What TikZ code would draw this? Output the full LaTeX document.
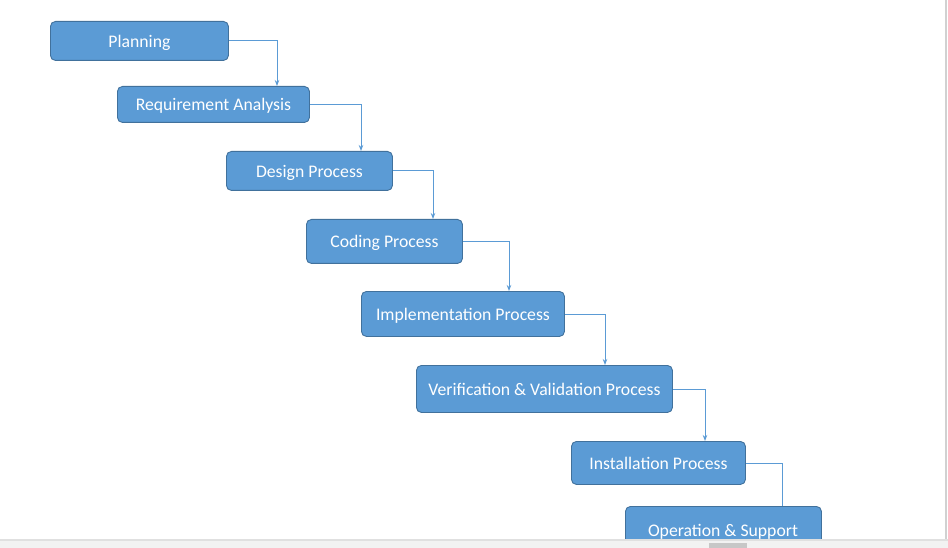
\documentclass[tikz,border=0pt]{standalone}
\usepackage{fontspec}
\setmainfont{Carlito}
\usetikzlibrary{arrows.meta}
\definecolor{boxfill}{HTML}{5B9BD5}
\definecolor{boxline}{HTML}{41719C}
\definecolor{connline}{HTML}{5B9BD5}
\begin{document}
\begin{tikzpicture}[x=1pt,y=-1pt,
  stagebox/.style={draw=boxline,fill=boxfill,line width=0.9pt,rounded corners=5pt,
    text=white,font=\fontsize{17.7}{19}\selectfont,inner sep=0pt,anchor=north west,
    text height=13pt,text depth=0pt},
  conn/.style={draw=connline,line width=0.9pt,-{Stealth[length=6pt,width=4.5pt]}},
  connplain/.style={draw=connline,line width=0.9pt}]
\useasboundingbox (0,0) rectangle (948,548);
\fill[white] (0,0) rectangle (948,548);
% stage boxes
\node[stagebox,minimum width=178,minimum height=39] (p1) at (50,21) {Planning};
\node[stagebox,minimum width=192,minimum height=36] (p2) at (117,86) {Requirement Analysis};
\node[stagebox,minimum width=166,minimum height=39] (p3) at (226,151) {Design Process};
\node[stagebox,minimum width=156,minimum height=44] (p4) at (306,219) {Coding Process};
\node[stagebox,minimum width=203,minimum height=45] (p5) at (361,291) {Implementation Process};
\node[stagebox,minimum width=256,minimum height=47] (p6) at (416,365) {Verification \& Validation Process};
\node[stagebox,minimum width=174,minimum height=43] (p7) at (571,441) {Installation Process};
\begin{scope}
\clip (0,0) rectangle (948,538);
\node[stagebox,minimum width=196,minimum height=48] (p8) at (625,506) {};
\node[text=white,font=\fontsize{17.7}{19}\selectfont,inner sep=0pt,text height=13pt,text depth=0pt] (t8) at (723,530) {Operation \& Support};
\end{scope}
% drop points
\coordinate (k1) at (277,0);
\coordinate (k2) at (361,0);
\coordinate (k3) at (433,0);
\coordinate (k4) at (509,0);
\coordinate (k5) at (605,0);
\coordinate (k6) at (705,0);
\coordinate (k7) at (782,0);
% connectors
\draw[conn] (p1.east) -| (p2.north -| k1);
\draw[conn] (p2.east) -| (p3.north -| k2);
\draw[conn] (p3.east) -| (p4.north -| k3);
\draw[conn] (p4.east) -| (p5.north -| k4);
\draw[connplain,line width=1.6pt] (p4.east) -- (p4.east -| k4);
\draw[conn] (p5.east) -| (p6.north -| k5);
\draw[conn] (p6.east) -| (p7.north -| k6);
\draw[connplain] (p7.east) -| (p8.north -| k7);
% window frame
\fill[black!18] (944.5,0) rectangle (947,539);
\fill[black!12] (0,538.5) rectangle (948,541);
\fill[black!5] (0,541) rectangle (948,548);
\fill[black!22] (709,543) rectangle (747,548);
\end{tikzpicture}
\end{document}
